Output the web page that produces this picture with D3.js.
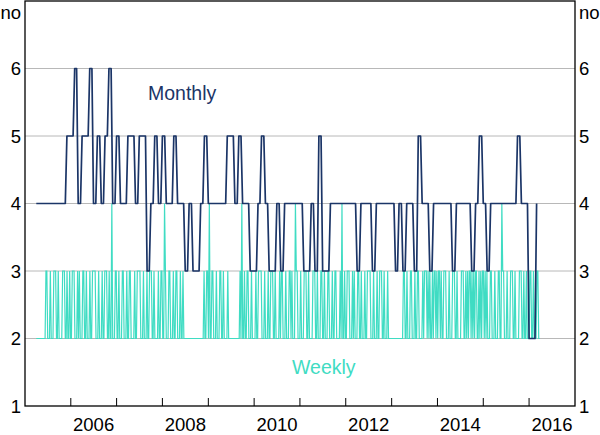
<!DOCTYPE html>
<html>
<head>
<meta charset="utf-8">
<script src="https://cdn.jsdelivr.net/npm/d3@7"></script>
<style>
  body { margin: 0; background: #fff; }
  text { font-family: Arial, "Liberation Sans", sans-serif; }
</style>
</head>
<body>
<svg width="600" height="435"></svg>
<script>
const width = 600;
const height = 435;
const svg = d3.select("svg");

// monthly count, first value is April 2005
const monthlyStart = [2005, 3];
const monthlyValues = [
  4,4,4,4,4,4,4,4, 5,5,6,4,5,5,6,4,5,4,5,6,4,5,4,4,5,5,4,5,5,3,
  4,5,4,5,4,4,5,4,4,3,4,3,3,4,5,4,4,4,4,4,5,5,4,5,4,4,3,3,4,5,
  4,3,3,4,3,4,4,4,4,4,3,3,4,3,5,3,3,4,4,4,4,4,4,4,3,4,4,4,3,4,
  4,4,4,4,3,4,3,4,4,3,5,4,4,3,4,4,4,4,4,3,4,4,4,4,3,4,5,4,3,4,
  4,4,4,4,4,4,5,4,4,2,2,4
];

// weekly count, first week starts 1 April 2005
const weeklyStart = [2005, 3, 1];
const weeklyChunks = [
  "22222222222",
  "3322232223332232222333223", "2232233322232322233223222", "3223333222322232233322322",
  "4",
  "2223322322233222322332222", "3223333222322232233322322", "223223322",
  "4",
  "32223322232233222322322",
  "2222222222222222222",
  "22322332", "4", "22332223222332232222322",
  "22222222222",
  "32", "4", "223223322232",
  "222",
  "3223333222322232233322322", "22323322232223323222",
  "4",
  "3322232223332232222333223", "2223322322233222322332222", "32",
  "4",
  "2232233322232322233223222", "3223333222322232233322322", "232222",
  "2222222222",
  "2223322322233222322332222", "3233323232232332323323223", "3322232223332232222333223",
  "2323323232332232323323232", "223322232223322",
  "4",
  "3322232223332232222333223", "223222332232223322"
];

const yTicks = [1, 2, 3, 4, 5, 6];
const yearTicks = d3.range(2006, 2017);
const yearLabels = [2006, 2008, 2010, 2012, 2014, 2016];

const plotLeft = 25, plotRight = 575, plotTop = 1, plotBottom = 406;
const navy = "#1b3567";
const teal = "#3fdcc3";
const fs = 18.5;

const x = d3.scaleTime()
  .domain([new Date(2005, 0, 1), new Date(2017, 0, 1)])
  .range([plotLeft, plotRight]);
const y = d3.scaleLinear().domain([1, 7]).range([plotBottom, plotTop]);

// gridlines
svg.append("g")
  .selectAll("line")
  .data(yTicks.filter(d => d > 1))
  .join("line")
  .attr("x1", plotLeft).attr("x2", plotRight)
  .attr("y1", d => y(d)).attr("y2", d => y(d))
  .attr("stroke", "#b8b8b8")
  .attr("stroke-width", 1);

// weekly series
const weekly = weeklyChunks.join("").split("").map((c, i) => ({
  date: d3.timeDay.offset(new Date(weeklyStart[0], weeklyStart[1], weeklyStart[2]), 7 * i),
  v: +c
}));

svg.append("path")
  .attr("d", d3.line().x(d => x(d.date)).y(d => y(d.v))(weekly))
  .attr("fill", "none")
  .attr("stroke", teal)
  .attr("stroke-width", 1.2);

// monthly series, drawn as steps with short sloped risers
const monthly = monthlyValues.map((v, i) => ({
  date: new Date(monthlyStart[0], monthlyStart[1] + i, 1),
  v: v
}));
const stepPts = [];
monthly.forEach((d, i) => {
  stepPts.push([x(d.date), y(d.v)]);
  if (i < monthly.length - 1) {
    stepPts.push([x(monthly[i + 1].date) - 1.6, y(d.v)]);
  }
});

svg.append("path")
  .attr("d", d3.line()(stepPts))
  .attr("fill", "none")
  .attr("stroke", navy)
  .attr("stroke-width", 1.7)
  .attr("stroke-linejoin", "round");

// frame
svg.append("rect")
  .attr("x", plotLeft).attr("y", plotTop)
  .attr("width", plotRight - plotLeft).attr("height", plotBottom - plotTop)
  .attr("fill", "none")
  .attr("stroke", "#000")
  .attr("stroke-width", 1.3);

// year ticks
svg.append("g")
  .selectAll("line")
  .data(yearTicks)
  .join("line")
  .attr("x1", d => x(new Date(d, 0, 1))).attr("x2", d => x(new Date(d, 0, 1)))
  .attr("y1", plotBottom).attr("y2", plotBottom - 8)
  .attr("stroke", "#000")
  .attr("stroke-width", 1);

// year labels, centred in the year
svg.append("g")
  .selectAll("text")
  .data(yearLabels)
  .join("text")
  .attr("x", d => x(new Date(d, 6, 2)))
  .attr("y", 431)
  .attr("text-anchor", "middle")
  .attr("font-size", fs)
  .text(d => d);

// y labels both sides
[{ xp: 21, anchor: "end" }, { xp: 579, anchor: "start" }].forEach(s => {
  svg.append("g")
    .selectAll("text")
    .data(yTicks)
    .join("text")
    .attr("x", s.xp)
    .attr("y", d => y(d) + 6.5)
    .attr("text-anchor", s.anchor)
    .attr("font-size", fs)
    .text(d => d);
  svg.append("text")
    .attr("x", s.xp)
    .attr("y", 19)
    .attr("text-anchor", s.anchor)
    .attr("font-size", fs)
    .text("no");
});

// series labels
svg.append("text")
  .attr("x", 148).attr("y", 100)
  .attr("font-size", 19.5)
  .attr("fill", navy)
  .text("Monthly");

svg.append("text")
  .attr("x", 292).attr("y", 374)
  .attr("font-size", 19.5)
  .attr("fill", teal)
  .text("Weekly");
</script>
</body>
</html>
